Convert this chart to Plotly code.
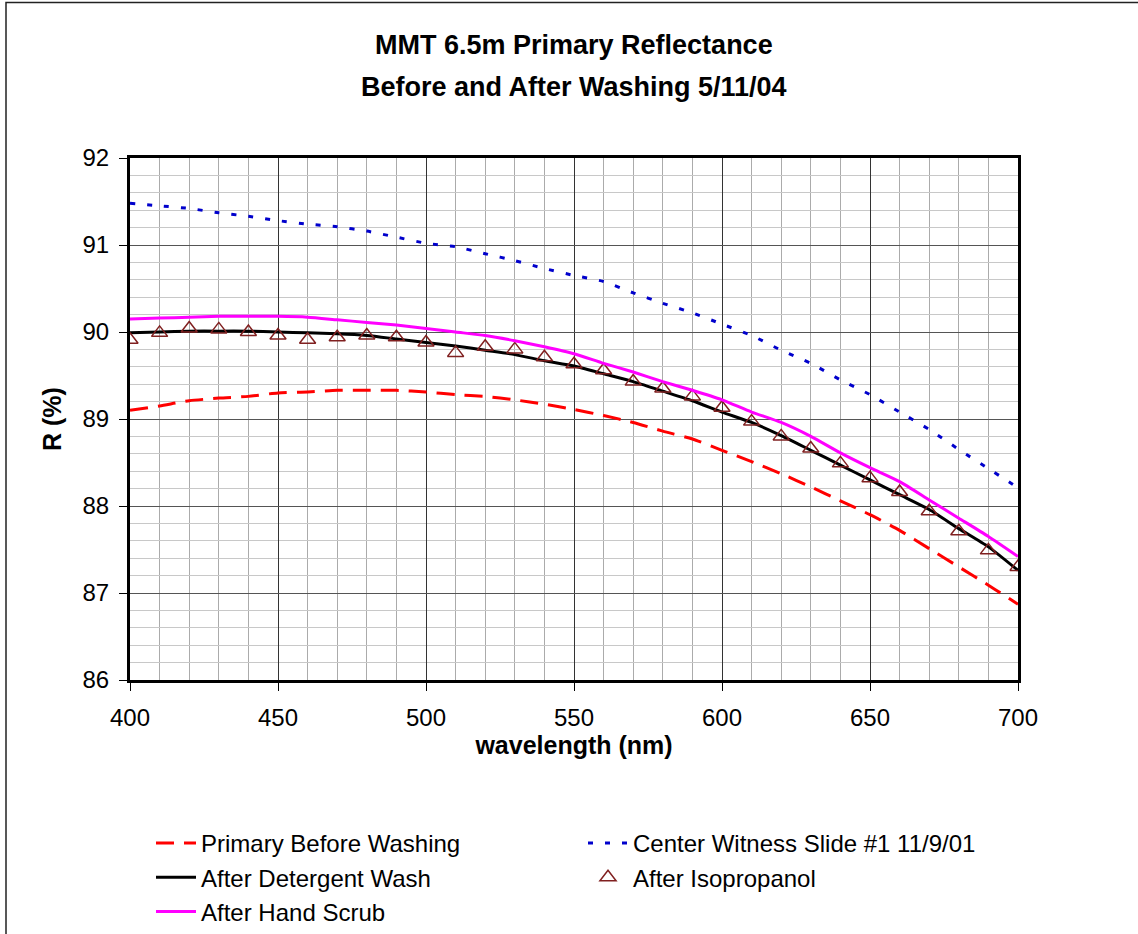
import plotly.graph_objects as go

wavelength = [400, 410, 420, 430, 440, 450, 460, 470, 480, 490, 500, 510, 520, 530, 540, 550,
              560, 570, 580, 590, 600, 610, 620, 630, 640, 650, 660, 670, 680, 690, 700]

primary_before = [89.10, 89.15, 89.21, 89.24, 89.26, 89.30, 89.31, 89.33, 89.33, 89.33, 89.31,
                  89.28, 89.26, 89.22, 89.17, 89.11, 89.04, 88.96, 88.86, 88.77, 88.64, 88.51,
                  88.37, 88.22, 88.06, 87.90, 87.72, 87.51, 87.30, 87.09, 86.87]

witness_slide = [91.48, 91.45, 91.42, 91.37, 91.33, 91.28, 91.24, 91.21, 91.16, 91.09, 91.02,
                 90.98, 90.90, 90.82, 90.73, 90.65, 90.58, 90.45, 90.33, 90.22, 90.09, 89.96,
                 89.79, 89.64, 89.45, 89.28, 89.08, 88.88, 88.65, 88.43, 88.21]

detergent = [89.99, 90.00, 90.01, 90.01, 90.01, 90.00, 89.99, 89.98, 89.96, 89.92, 89.88,
             89.84, 89.79, 89.74, 89.67, 89.61, 89.52, 89.43, 89.32, 89.21, 89.08, 88.96,
             88.81, 88.64, 88.47, 88.30, 88.13, 87.96, 87.74, 87.53, 87.26]

isopropanol = [89.91, 89.99, 90.04, 90.03, 90.00, 89.96, 89.91, 89.94, 89.96, 89.94, 89.88,
               89.76, 89.83, 89.80, 89.71, 89.63, 89.56, 89.43, 89.35, 89.26, 89.13, 88.97,
               88.80, 88.66, 88.49, 88.32, 88.16, 87.94, 87.71, 87.49, 87.30]

hand_scrub = [90.15, 90.16, 90.17, 90.18, 90.18, 90.18, 90.17, 90.14, 90.11, 90.08, 90.04,
              90.00, 89.96, 89.90, 89.83, 89.75, 89.64, 89.54, 89.43, 89.33, 89.22, 89.08,
              88.96, 88.80, 88.61, 88.44, 88.28, 88.07, 87.86, 87.65, 87.42]

x_ticks = [400, 450, 500, 550, 600, 650, 700]
y_ticks = [86, 87, 88, 89, 90, 91, 92]

FONT = "Liberation Sans, Arial, sans-serif"

fig = go.Figure()
fig.add_trace(go.Scatter(x=wavelength, y=primary_before, mode="lines",
                         name="Primary Before Washing",
                         line=dict(color="#FF0000", width=3, dash="18px,10px", shape="spline", smoothing=0.6)))
fig.add_trace(go.Scatter(x=wavelength, y=witness_slide, mode="lines",
                         name="Center Witness Slide #1 11/9/01",
                         line=dict(color="#0000CC", width=3, dash="5px,12px", shape="spline", smoothing=0.6)))
fig.add_trace(go.Scatter(x=wavelength, y=detergent, mode="lines",
                         name="After Detergent Wash",
                         line=dict(color="#000000", width=3, shape="spline", smoothing=0.6)))
fig.add_trace(go.Scatter(x=wavelength, y=isopropanol, mode="markers",
                         name="After Isopropanol",
                         marker=dict(symbol="triangle-up-open", size=14, color="#802020",
                                     line=dict(color="#802020", width=1.5))))
fig.add_trace(go.Scatter(x=wavelength, y=hand_scrub, mode="lines",
                         name="After Hand Scrub",
                         line=dict(color="#FF00FF", width=3, shape="spline", smoothing=0.6)))

L, R, T, B = 130, 120, 158, 254
W, H = 1138, 934
pw, ph = W - L - R, H - T - B

def px_x(v):
    return (v - L) / pw

def px_y(v):
    return (H - B - v) / ph

fig.update_layout(
    width=W, height=H,
    margin=dict(l=L, r=R, t=T, b=B, autoexpand=False),
    paper_bgcolor="white", plot_bgcolor="white",
    font=dict(family=FONT, color="black"),
    showlegend=True,
    legend=dict(orientation="h", x=px_x(151), y=px_y(821), xanchor="left", yanchor="top",
                entrywidth=377, entrywidthmode="pixels", itemwidth=40,
                font=dict(family=FONT, size=24, color="black"),
                bgcolor="rgba(0,0,0,0)", borderwidth=0, traceorder="normal"),
    annotations=[
        dict(text="<b>MMT 6.5m Primary Reflectance</b>", xref="paper", yref="paper",
             x=0.5, y=px_y(45), xanchor="center", yanchor="middle", showarrow=False,
             font=dict(family=FONT, size=27, color="black")),
        dict(text="<b>Before and After Washing 5/11/04</b>", xref="paper", yref="paper",
             x=0.5, y=px_y(87), xanchor="center", yanchor="middle", showarrow=False,
             font=dict(family=FONT, size=27, color="black")),
    ],
    shapes=[
        dict(type="rect", xref="paper", yref="paper",
             x0=px_x(6), x1=px_x(1150), y0=px_y(950), y1=px_y(2.5),
             line=dict(color="#222222", width=1.5), fillcolor="rgba(0,0,0,0)", layer="below"),
    ],
)

fig.update_xaxes(
    range=[400, 700], tickvals=x_ticks, ticktext=[str(v) for v in x_ticks],
    showgrid=True, gridcolor="#333333", gridwidth=1,
    minor=dict(dtick=10, tick0=400, showgrid=True, gridcolor="#ABABAB", gridwidth=1, ticks=""),
    showline=True, linecolor="black", linewidth=3, mirror=True,
    ticks="outside", ticklen=8, tickwidth=1, tickcolor="black",
    tickfont=dict(family=FONT, size=24, color="black"),
    ticklabelstandoff=6,
    zeroline=False,
    title=dict(text="<b>wavelength (nm)</b>", standoff=4,
               font=dict(family=FONT, size=25, color="black")),
)
fig.update_yaxes(
    range=[86, 92], tickvals=y_ticks, ticktext=[str(v) for v in y_ticks],
    showgrid=True, gridcolor="#555555", gridwidth=1,
    minor=dict(dtick=0.2, tick0=86, showgrid=True, gridcolor="#C8C8C8", gridwidth=1, ticks=""),
    showline=True, linecolor="black", linewidth=3, mirror=True,
    ticks="outside", ticklen=8, tickwidth=1, tickcolor="black",
    tickfont=dict(family=FONT, size=24, color="black"),
    ticklabelstandoff=5,
    zeroline=False,
    title=dict(text="<b>R (%)</b>", standoff=14,
               font=dict(family=FONT, size=25, color="black")),
)

fig.write_html("out.html",
               config={"displayModeBar": False},
               post_script="document.body.style.margin='0';document.body.style.overflow='hidden';")
